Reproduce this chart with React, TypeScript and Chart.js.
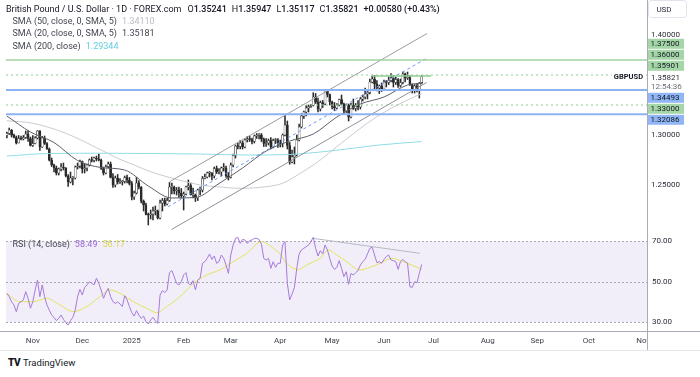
import React, { useEffect, useRef } from 'react';
import { Chart, registerables } from 'chart.js';

Chart.register(...registerables);

// Daily bars: index 0 = 17 Oct 2024 ... index 176 = 24 Jun 2025 (weekdays, 25 Dec and 1 Jan skipped)
const opens = [
  1.2995, 1.3015, 1.3050, 1.2998, 1.2975, 1.2920, 1.2965, 1.2960, 1.2975, 1.3010,
  1.2965, 1.2895, 1.2915, 1.2970, 1.3040, 1.2880, 1.2970, 1.2915, 1.2860, 1.2750,
  1.2700, 1.2670, 1.2620, 1.2660, 1.2680, 1.2670, 1.2590, 1.2530, 1.2570, 1.2570,
  1.2680, 1.2690, 1.2735, 1.2660, 1.2670, 1.2700, 1.2750, 1.2745, 1.2770, 1.2760,
  1.2750, 1.2665, 1.2620, 1.2685, 1.2710, 1.2575, 1.2500, 1.2570, 1.2530, 1.2530,
  1.2535, 1.2575, 1.2550, 1.2515, 1.2380, 1.2420, 1.2520, 1.2480, 1.2340, 1.2300,
  1.2205, 1.2200, 1.2210, 1.2240, 1.2240, 1.2170, 1.2320, 1.2345, 1.2310, 1.2345,
  1.2480, 1.2480, 1.2440, 1.2450, 1.2420, 1.2390, 1.2410, 1.2480, 1.2495, 1.2400,
  1.2400, 1.2370, 1.2450, 1.2450, 1.2565, 1.2580, 1.2620, 1.2620, 1.2590, 1.2665,
  1.2630, 1.2630, 1.2670, 1.2670, 1.2590, 1.2575, 1.2700, 1.2795, 1.2890, 1.2885,
  1.2920, 1.2880, 1.2950, 1.2960, 1.2955, 1.2935, 1.2990, 1.3000, 1.3000, 1.2960,
  1.2915, 1.2920, 1.2945, 1.2880, 1.2945, 1.2945, 1.2920, 1.2915, 1.3000, 1.3100,
  1.2895, 1.2730, 1.2780, 1.2800, 1.2950, 1.3080, 1.3190, 1.3230, 1.3270, 1.3285,
  1.3295, 1.3380, 1.3330, 1.3260, 1.3325, 1.3310, 1.3440, 1.3405, 1.3330, 1.3285,
  1.3270, 1.3300, 1.3355, 1.3310, 1.3240, 1.3300, 1.3180, 1.3300, 1.3265, 1.3300,
  1.3280, 1.3360, 1.3380, 1.3410, 1.3425, 1.3530, 1.3560, 1.3510, 1.3470, 1.3490,
  1.3460, 1.3530, 1.3525, 1.3545, 1.3570, 1.3525, 1.3555, 1.3495, 1.3525, 1.3610,
  1.3570, 1.3575, 1.3500, 1.3445, 1.3490, 1.3455, 1.35241,
];
const highs = [
  1.3030, 1.3070, 1.3055, 1.3010, 1.2990, 1.2995, 1.2990, 1.2995, 1.3040, 1.3045,
  1.2980, 1.2995, 1.2985, 1.3045, 1.3045, 1.2985, 1.2990, 1.2925, 1.2870, 1.2770,
  1.2710, 1.2690, 1.2670, 1.2715, 1.2720, 1.2675, 1.2605, 1.2630, 1.2585, 1.2690,
  1.2720, 1.2750, 1.2740, 1.2710, 1.2710, 1.2760, 1.2780, 1.2780, 1.2790, 1.2810,
  1.2760, 1.2680, 1.2700, 1.2730, 1.2730, 1.2615, 1.2590, 1.2605, 1.2565, 1.2545,
  1.2590, 1.2600, 1.2575, 1.2535, 1.2440, 1.2575, 1.2545, 1.2485, 1.2350, 1.2320,
  1.2220, 1.2250, 1.2280, 1.2290, 1.2250, 1.2350, 1.2365, 1.2370, 1.2370, 1.2525,
  1.2520, 1.2490, 1.2475, 1.2480, 1.2465, 1.2430, 1.2490, 1.2550, 1.2520, 1.2470,
  1.2410, 1.2460, 1.2480, 1.2585, 1.2610, 1.2630, 1.2635, 1.2625, 1.2680, 1.2690,
  1.2665, 1.2680, 1.2715, 1.2690, 1.2625, 1.2720, 1.2810, 1.2900, 1.2920, 1.2945,
  1.2940, 1.2965, 1.2985, 1.2990, 1.2970, 1.3000, 1.3015, 1.3015, 1.3015, 1.2970,
  1.2965, 1.2960, 1.2975, 1.2960, 1.2965, 1.2965, 1.2950, 1.3010, 1.3207, 1.3140,
  1.2925, 1.2850, 1.2880, 1.3000, 1.3110, 1.3215, 1.3240, 1.3295, 1.3300, 1.3305,
  1.3423, 1.3415, 1.3370, 1.3340, 1.3345, 1.3445, 1.3445, 1.3410, 1.3340, 1.3325,
  1.3315, 1.3360, 1.3400, 1.3320, 1.3310, 1.3310, 1.3320, 1.3360, 1.3315, 1.3345,
  1.3375, 1.3400, 1.3470, 1.3445, 1.3560, 1.3590, 1.3595, 1.3545, 1.3500, 1.3520,
  1.3550, 1.3545, 1.3580, 1.3615, 1.3595, 1.3580, 1.3565, 1.3560, 1.3630, 1.3620,
  1.3630, 1.3595, 1.3510, 1.3505, 1.3515, 1.3525, 1.35947,
];
const lows = [
  1.2970, 1.3005, 1.2980, 1.2970, 1.2910, 1.2920, 1.2950, 1.2950, 1.2965, 1.2935,
  1.2890, 1.2885, 1.2910, 1.2960, 1.2845, 1.2875, 1.2905, 1.2855, 1.2740, 1.2685,
  1.2630, 1.2600, 1.2600, 1.2640, 1.2650, 1.2580, 1.2487, 1.2520, 1.2500, 1.2560,
  1.2660, 1.2670, 1.2620, 1.2620, 1.2640, 1.2690, 1.2730, 1.2730, 1.2740, 1.2740,
  1.2655, 1.2600, 1.2610, 1.2670, 1.2570, 1.2475, 1.2480, 1.2510, 1.2515, 1.2500,
  1.2520, 1.2520, 1.2500, 1.2350, 1.2355, 1.2410, 1.2460, 1.2320, 1.2240, 1.2200,
  1.2100, 1.2160, 1.2150, 1.2200, 1.2160, 1.2160, 1.2240, 1.2290, 1.2300, 1.2335,
  1.2410, 1.2410, 1.2400, 1.2375, 1.2370, 1.2250, 1.2400, 1.2450, 1.2400, 1.2370,
  1.2335, 1.2345, 1.2400, 1.2430, 1.2560, 1.2570, 1.2580, 1.2550, 1.2570, 1.2615,
  1.2610, 1.2590, 1.2640, 1.2575, 1.2550, 1.2570, 1.2680, 1.2770, 1.2860, 1.2860,
  1.2860, 1.2870, 1.2930, 1.2935, 1.2910, 1.2920, 1.2965, 1.2960, 1.2935, 1.2885,
  1.2885, 1.2900, 1.2860, 1.2870, 1.2915, 1.2875, 1.2880, 1.2880, 1.2990, 1.2860,
  1.2708, 1.2720, 1.2710, 1.2790, 1.2940, 1.3070, 1.3165, 1.3190, 1.3230, 1.3275,
  1.3290, 1.3315, 1.3230, 1.3240, 1.3275, 1.3300, 1.3380, 1.3300, 1.3260, 1.3245,
  1.3260, 1.3290, 1.3300, 1.3210, 1.3225, 1.3140, 1.3170, 1.3255, 1.3240, 1.3250,
  1.3260, 1.3340, 1.3360, 1.3360, 1.3410, 1.3520, 1.3450, 1.3440, 1.3415, 1.3435,
  1.3445, 1.3480, 1.3505, 1.3530, 1.3480, 1.3505, 1.3475, 1.3480, 1.3510, 1.3530,
  1.3555, 1.3495, 1.3420, 1.3420, 1.3430, 1.3370, 1.35117,
];
const closes = [
  1.3015, 1.3050, 1.2998, 1.2975, 1.2920, 1.2965, 1.2960, 1.2975, 1.3010, 1.2965,
  1.2895, 1.2915, 1.2970, 1.3040, 1.2880, 1.2970, 1.2915, 1.2860, 1.2750, 1.2700,
  1.2670, 1.2620, 1.2660, 1.2680, 1.2670, 1.2590, 1.2530, 1.2570, 1.2570, 1.2680,
  1.2690, 1.2735, 1.2660, 1.2670, 1.2700, 1.2750, 1.2745, 1.2770, 1.2760, 1.2750,
  1.2665, 1.2620, 1.2685, 1.2710, 1.2575, 1.2500, 1.2570, 1.2530, 1.2530, 1.2535,
  1.2575, 1.2550, 1.2515, 1.2380, 1.2420, 1.2520, 1.2480, 1.2340, 1.2300, 1.2205,
  1.2200, 1.2210, 1.2240, 1.2240, 1.2170, 1.2320, 1.2345, 1.2310, 1.2345, 1.2480,
  1.2480, 1.2440, 1.2450, 1.2420, 1.2390, 1.2410, 1.2480, 1.2495, 1.2400, 1.2400,
  1.2370, 1.2450, 1.2450, 1.2565, 1.2580, 1.2620, 1.2620, 1.2590, 1.2665, 1.2630,
  1.2630, 1.2670, 1.2670, 1.2590, 1.2575, 1.2700, 1.2795, 1.2890, 1.2885, 1.2920,
  1.2880, 1.2950, 1.2960, 1.2955, 1.2935, 1.2990, 1.3000, 1.3000, 1.2960, 1.2915,
  1.2920, 1.2945, 1.2880, 1.2945, 1.2945, 1.2920, 1.2915, 1.3000, 1.3100, 1.2895,
  1.2730, 1.2780, 1.2800, 1.2950, 1.3080, 1.3190, 1.3230, 1.3270, 1.3285, 1.3295,
  1.3380, 1.3330, 1.3260, 1.3325, 1.3310, 1.3440, 1.3405, 1.3330, 1.3285, 1.3270,
  1.3300, 1.3355, 1.3310, 1.3240, 1.3300, 1.3180, 1.3300, 1.3265, 1.3300, 1.3280,
  1.3360, 1.3380, 1.3410, 1.3425, 1.3530, 1.3560, 1.3510, 1.3470, 1.3490, 1.3460,
  1.3530, 1.3525, 1.3545, 1.3570, 1.3525, 1.3555, 1.3495, 1.3525, 1.3610, 1.3570,
  1.3575, 1.3500, 1.3445, 1.3490, 1.3455, 1.3520, 1.35821,
];

const rsiValues = [
  44.2, 42.6, 40.1, 38.5, 35.2, 39.3, 40.1, 41.0, 45.1, 41.8,
  36.9, 40.1, 45.9, 50.8, 42.6, 48.4, 42.6, 38.5, 36.0, 33.5,
  32.4, 30.8, 31.9, 33.5, 31.4, 29.8, 28.6, 30.8, 32.4, 36.0,
  42.6, 46.2, 43.4, 47.2, 48.4, 50.0, 49.2, 48.4, 51.7, 49.2,
  45.9, 41.8, 44.6, 46.7, 42.6, 40.1, 39.3, 40.0, 39.0, 37.7,
  43.1, 41.0, 37.7, 34.7, 33.0, 35.7, 33.5, 31.9, 33.0, 30.3,
  29.1, 31.1, 32.4, 30.8, 29.4, 43.4, 45.6, 44.6, 45.9, 54.5,
  55.5, 52.5, 49.2, 48.4, 50.0, 53.3, 54.5, 49.2, 48.4, 50.5,
  45.9, 50.8, 51.7, 59.1, 59.9, 61.5, 63.7, 61.0, 62.7, 59.1,
  59.9, 63.2, 61.5, 58.2, 54.1, 63.2, 68.1, 71.4, 71.9, 68.9,
  70.9, 70.6, 68.9, 70.3, 70.6, 71.4, 71.4, 70.9, 68.6, 61.5,
  60.7, 61.5, 56.6, 59.9, 57.1, 59.1, 59.1, 68.1, 69.8, 49.2,
  41.0, 43.9, 47.2, 56.6, 63.7, 65.7, 66.5, 67.3, 68.1, 69.8,
  71.9, 66.5, 62.7, 65.3, 63.7, 68.1, 65.7, 61.5, 57.7, 56.1,
  57.1, 60.4, 56.6, 52.5, 54.9, 48.7, 54.1, 53.3, 54.5, 55.5,
  58.2, 59.9, 61.0, 63.7, 66.5, 67.0, 63.2, 59.4, 59.9, 59.1,
  61.0, 62.4, 63.2, 60.7, 60.4, 59.9, 56.1, 59.9, 61.0, 59.9,
  59.1, 47.5, 47.2, 50.0, 49.5, 54.1, 58.49,
];

const rsiMaBars = [0, 5.6, 11.2, 16.9, 22.5, 28.2, 33.9, 39.5, 43.8, 48, 53.7, 59.3, 63.6, 67.8, 73.5, 79.1, 84.8, 90.4, 96.1, 101.8, 108.1, 113.1, 115.9, 118.7, 121.6, 123.7, 127.2, 130, 132.9, 136.4, 139.9, 144.2, 149.8, 154.1, 158.3, 163.3, 168.2, 171.8, 176];
const rsiMaValues = [44.2, 40.1, 40.1, 41.8, 38.5, 35.2, 37.7, 42.6, 45.9, 44.3, 40.1, 36.9, 34.7, 37.7, 42.6, 49.2, 53.3, 55.8, 59.9, 64.0, 69.8, 66.5, 63.7, 59.1, 56.6, 56.1, 58.2, 59.9, 61.5, 65.7, 63.2, 59.9, 55.8, 57.1, 59.1, 61.5, 59.9, 58.2, 56.17];

const sma20Bars = [0, 10, 20, 30, 40, 50, 60, 70, 80, 90, 100, 110, 120, 130, 140, 150, 160, 170, 176];
const sma20Values = [1.3190, 1.3030, 1.2925, 1.2745, 1.2675, 1.2650, 1.2490, 1.2370, 1.2375, 1.2515, 1.2670, 1.2840, 1.2940, 1.3010, 1.3180, 1.3310, 1.3380, 1.3500, 1.35181];

const sma50Bars = [0, 11, 25, 40, 47, 54, 61, 73, 82, 89, 99, 107, 117, 121, 133, 140, 157, 173, 176];
const sma50Values = [1.3143, 1.3117, 1.3017, 1.2850, 1.2767, 1.2700, 1.2633, 1.2550, 1.2500, 1.2483, 1.2467, 1.2475, 1.2517, 1.2567, 1.2750, 1.2883, 1.3183, 1.3383, 1.34110];

const sma200Bars = [0, 18, 40, 60, 82, 103, 120, 133, 146, 158, 176];
const sma200Values = [1.2790, 1.2815, 1.2818, 1.2815, 1.2810, 1.2800, 1.2805, 1.2830, 1.2865, 1.2900, 1.29344];

// channel drawings: [barIndex, price]
const channelUpper = [[69.2, 1.2535], [178.25, 1.4015]];
const channelLower = [[69.85, 1.2055], [178.1, 1.3525]];
const channelMedian = [[68.4, 1.2283], [178.7, 1.3775]];
const rsiTrendline = [[130, 71.4], [175.3, 64.0]];

const greenSolidLevels = [1.375];
const greenDottedLevels = [1.36, 1.33];
const blueLevels = [1.34493, 1.32086];
const shortLevel = { fromBar: 155, toBar: 180, price: 1.35901 };

const priceTickValues = [1.25, 1.3, 1.4];
const rsiTickValues = [70, 50, 30];

const monthTickBars = [11, 32, 53, 75, 95, 116, 138, 160, 181, 204, 225, 247, 270];
const monthTickLabels = ['Nov', 'Dec', '2025', 'Feb', 'Mar', 'Apr', 'May', 'Jun', 'Jul', 'Aug', 'Sep', 'Oct', 'Nov'];

const axisLevelLabels = [
  { price: 1.375, text: '1.37500', kind: 'green' },
  { price: 1.36, text: '1.36000', kind: 'green' },
  { price: 1.35901, text: '1.35901', kind: 'green' },
  { price: 1.35821, text: '1.35821', kind: 'last', sub: '12:54:36' },
  { price: 1.34493, text: '1.34493', kind: 'blue' },
  { price: 1.33, text: '1.33000', kind: 'green' },
  { price: 1.32086, text: '1.32086', kind: 'blue' },
];

const X_MIN = -0.37;
const X_MAX = 271.6;
const FONT = 'Roboto, "Liberation Sans", sans-serif';
const INK = '#2a2e39';
const CANDLE = '#2b2b2b';
const GREEN = '#a5d6a7';
const BLUE = '#90b6f5';

const pts = (bars: number[], vals: number[]) => bars.map((b, i) => ({ x: b, y: vals[i] }));
const seg = (s: number[][]) => s.map(([x, y]) => ({ x, y }));
const hline = (p: number) => [{ x: X_MIN, y: p }, { x: X_MAX, y: p }];

const lineDs = (data: any[], color: string, width: number, order: number, extra: any = {}) => ({
  type: 'line',
  data,
  borderColor: color,
  borderWidth: width,
  pointRadius: 0,
  fill: false,
  order,
  ...extra,
});

const pricePanePlugin = {
  id: 'pricePane',
  afterDraw(chart: any) {
    const { ctx, chartArea, scales } = chart;
    const ys = scales.y;
    const right = chartArea.right;
    ctx.save();
    ctx.strokeStyle = '#a9acb6';
    ctx.lineWidth = 1;
    ctx.beginPath();
    ctx.moveTo(right + 0.5, 0);
    ctx.lineTo(right + 0.5, chart.height);
    ctx.stroke();
    ctx.strokeStyle = '#e0e3eb';
    ctx.beginPath();
    (ctx as any).roundRect(right + 1.5, 0.5, 38, 17, 3);
    ctx.stroke();
    ctx.fillStyle = INK;
    ctx.font = `8px ${FONT}`;
    ctx.textBaseline = 'middle';
    ctx.textAlign = 'center';
    ctx.fillText('USD', right + 17, 9.5);
    ctx.textAlign = 'left';
    priceTickValues.forEach((v) => ctx.fillText(v.toFixed(5), right + 4, ys.getPixelForValue(v)));
    const items = axisLevelLabels.map((l) => ({ ...l, h: l.sub ? 21 : 11, yTrue: ys.getPixelForValue(l.price) }));
    const total = items.reduce((a, b) => a + b.h, 0);
    const mean = items.reduce((a, b) => a + b.yTrue, 0) / items.length;
    let top = mean - total / 2 - 3;
    items.forEach((it) => {
      if (it.kind === 'last') {
        ctx.fillStyle = '#ffffff';
        ctx.fillRect(right + 1, top, 52, it.h - 1);
        ctx.fillStyle = INK;
        ctx.fillText(it.text, right + 4, top + 6.5);
        ctx.fillStyle = '#6a6d78';
        ctx.fillText(it.sub as string, right + 4, top + 15);
      } else {
        ctx.fillStyle = it.kind === 'green' ? GREEN : BLUE;
        ctx.fillRect(right + 1, top, 36, 10);
        ctx.fillStyle = '#131722';
        ctx.fillText(it.text, right + 3.5, top + 5.3);
      }
      top += it.h;
    });
    const lastY = ys.getPixelForValue(closes[closes.length - 1]);
    ctx.font = `bold 7.5px ${FONT}`;
    const w = ctx.measureText('GBPUSD').width;
    ctx.fillStyle = '#ffffff';
    ctx.fillRect(right - w - 6, lastY - 5, w + 5, 10);
    ctx.fillStyle = '#131722';
    ctx.textAlign = 'right';
    ctx.fillText('GBPUSD', right - 4, lastY + 0.5);
    ctx.restore();
  },
};

const rsiPanePlugin = {
  id: 'rsiPane',
  beforeDatasetsDraw(chart: any) {
    const { ctx, chartArea, scales } = chart;
    const ys = scales.y;
    const y70 = ys.getPixelForValue(70);
    const y30 = ys.getPixelForValue(30);
    ctx.save();
    ctx.fillStyle = 'rgba(126,87,194,0.1)';
    ctx.fillRect(chartArea.left, y70, chartArea.right - chartArea.left, y30 - y70);
    ctx.strokeStyle = '#a8a8b2';
    ctx.lineWidth = 1;
    ctx.setLineDash([2, 2]);
    rsiTickValues.forEach((v) => {
      const y = Math.round(ys.getPixelForValue(v)) + 0.5;
      ctx.beginPath();
      ctx.moveTo(chartArea.left, y);
      ctx.lineTo(chartArea.right, y);
      ctx.stroke();
    });
    ctx.restore();
  },
  afterDraw(chart: any) {
    const { ctx, chartArea, scales } = chart;
    const ys = scales.y;
    const xs = scales.x;
    const right = chartArea.right;
    ctx.save();
    ctx.strokeStyle = '#a9acb6';
    ctx.lineWidth = 1;
    ctx.beginPath();
    ctx.moveTo(right + 0.5, 0);
    ctx.lineTo(right + 0.5, chart.height);
    ctx.moveTo(0, chartArea.bottom + 0.5);
    ctx.lineTo(chart.width, chartArea.bottom + 0.5);
    ctx.stroke();
    ctx.strokeStyle = '#e6e8ee';
    ctx.beginPath();
    ctx.moveTo(0, chart.height - 0.5);
    ctx.lineTo(chart.width, chart.height - 0.5);
    ctx.stroke();
    ctx.fillStyle = INK;
    ctx.font = `8px ${FONT}`;
    ctx.textBaseline = 'middle';
    ctx.textAlign = 'left';
    rsiTickValues.forEach((v) => ctx.fillText(v.toFixed(2), right + 5, ys.getPixelForValue(v)));
    ctx.beginPath();
    ctx.rect(0, chartArea.bottom + 1, right, chart.height);
    ctx.clip();
    ctx.textAlign = 'center';
    ctx.fillStyle = '#3b3f4a';
    monthTickBars.forEach((b, i) => ctx.fillText(monthTickLabels[i], xs.getPixelForValue(b), chartArea.bottom + 10));
    ctx.restore();
  },
};

export default function App() {
  const priceRef = useRef<HTMLCanvasElement>(null);
  const rsiRef = useRef<HTMLCanvasElement>(null);

  useEffect(() => {
    const bars = closes.map((_, i) => i);
    const wickData = bars.map((i) => ({ x: i, y: [lows[i], highs[i]] }));
    const bodyData = bars.map((i) => ({ x: i, y: [opens[i], closes[i]] }));
    const bodyFill = bars.map((i) => (closes[i] >= opens[i] ? '#ffffff' : CANDLE));

    const priceChart = new Chart(priceRef.current as HTMLCanvasElement, {
      type: 'bar',
      data: {
        datasets: [
          lineDs(hline(greenSolidLevels[0]), '#9fd3a1', 1.6, 1),
          ...greenDottedLevels.map((p) => lineDs(hline(p), '#8fcb92', 1, 1, { borderDash: [2, 3] })),
          ...blueLevels.map((p) => lineDs(hline(p), '#8db3f3', 2, 1)),
          lineDs([{ x: shortLevel.fromBar, y: shortLevel.price }, { x: shortLevel.toBar, y: shortLevel.price }], '#8fcb92', 1.6, 1),
          lineDs(seg(channelUpper), '#9a9da6', 1, 2),
          lineDs(seg(channelLower), '#8e919a', 1, 2),
          lineDs(seg(channelMedian), '#6d95ee', 1, 2, { borderDash: [3, 3] }),
          lineDs(pts(sma20Bars, sma20Values), '#5d606b', 1, 4, { cubicInterpolationMode: 'monotone' }),
          lineDs(pts(sma50Bars, sma50Values), '#c9cbd1', 1, 4, { cubicInterpolationMode: 'monotone' }),
          lineDs(pts(sma200Bars, sma200Values), '#8fdde8', 1, 4, { cubicInterpolationMode: 'monotone' }),
          {
            type: 'bar',
            data: bodyData,
            backgroundColor: bodyFill,
            borderColor: CANDLE,
            borderWidth: 0.55,
            borderSkipped: false,
            barThickness: 2.1,
            minBarLength: 1,
            grouped: false,
            order: 6,
          },
          {
            type: 'bar',
            data: wickData,
            backgroundColor: CANDLE,
            borderWidth: 0,
            barThickness: 0.9,
            grouped: false,
            order: 7,
          },
        ] as any,
      },
      options: {
        responsive: false,
        animation: false,
        devicePixelRatio: 1,
        layout: { padding: { left: 6, right: 0, top: 0, bottom: 0 } },
        plugins: { legend: { display: false }, tooltip: { enabled: false } },
        scales: {
          x: { type: 'linear', min: X_MIN, max: X_MAX, display: false, offset: false },
          y: {
            type: 'linear',
            position: 'right',
            min: 1.202,
            max: 1.435,
            grid: { display: false },
            border: { display: false },
            ticks: { display: false },
            afterFit: (s: any) => { s.width = 53; },
          },
        },
      } as any,
      plugins: [pricePanePlugin],
    });

    const rsiChart = new Chart(rsiRef.current as HTMLCanvasElement, {
      type: 'line',
      data: {
        datasets: [
          lineDs(seg(rsiTrendline), '#b8bac2', 1, 3),
          lineDs(pts(rsiMaBars, rsiMaValues), '#e3e35a', 1, 2, { cubicInterpolationMode: 'monotone' }),
          lineDs(bars.map((i) => ({ x: i, y: rsiValues[i] })), '#a57ad9', 1, 1),
        ] as any,
      },
      options: {
        responsive: false,
        animation: false,
        devicePixelRatio: 1,
        layout: { padding: { left: 6, right: 0, top: 0, bottom: 20 } },
        plugins: { legend: { display: false }, tooltip: { enabled: false } },
        scales: {
          x: { type: 'linear', min: X_MIN, max: X_MAX, display: false },
          y: {
            type: 'linear',
            position: 'right',
            min: 25.65,
            max: 74.05,
            grid: { display: false },
            border: { display: false },
            ticks: { display: false },
            afterFit: (s: any) => { s.width = 53; },
          },
        },
      } as any,
      plugins: [rsiPanePlugin],
    });

    return () => {
      priceChart.destroy();
      rsiChart.destroy();
    };
  }, []);

  const txt: React.CSSProperties = {
    position: 'absolute',
    fontFamily: FONT,
    fontSize: '9px',
    lineHeight: '10px',
    whiteSpace: 'nowrap',
    color: '#131722',
    pointerEvents: 'none',
  };
  const val = (v: string) => <span style={{ fontWeight: 500 }}>{v}</span>;

  return (
    <div style={{ position: 'fixed', left: 0, top: 0, width: 700, height: 377, background: '#ffffff', overflow: 'hidden' }}>
      <canvas ref={priceRef} width={700} height={233} style={{ position: 'absolute', left: 0, top: 0, width: 700, height: 233 }} />
      <canvas ref={rsiRef} width={700} height={118} style={{ position: 'absolute', left: 0, top: 233, width: 700, height: 118 }} />
      <div style={{ ...txt, left: 6, top: 3.5 }}>
        <span>British Pound / U.S. Dollar · 1D · FOREX.com</span>
        <span style={{ marginLeft: 6 }}>O{val('1.35241')}</span>
        <span style={{ marginLeft: 5 }}>H{val('1.35947')}</span>
        <span style={{ marginLeft: 5 }}>L{val('1.35117')}</span>
        <span style={{ marginLeft: 5 }}>C{val('1.35821')}</span>
        <span style={{ marginLeft: 5 }}>{val('+0.00580 (+0.43%)')}</span>
      </div>
      <div style={{ ...txt, left: 12.5, top: 15.7, color: '#434651' }}>
        SMA (50, close, 0, SMA, 5)<span style={{ marginLeft: 5, color: '#b9bbc2' }}>1.34110</span>
      </div>
      <div style={{ ...txt, left: 12.5, top: 28.3, color: '#434651' }}>
        SMA (20, close, 0, SMA, 5)<span style={{ marginLeft: 5, color: '#434651' }}>1.35181</span>
      </div>
      <div style={{ ...txt, left: 12.5, top: 41, color: '#434651' }}>
        SMA (200, close)<span style={{ marginLeft: 5, color: '#5ccfe0' }}>1.29344</span>
      </div>
      <div style={{ ...txt, left: 12.5, top: 239, color: '#434651' }}>
        RSI (14, close)<span style={{ marginLeft: 5, color: '#9c6ad6' }}>58.49</span>
        <span style={{ marginLeft: 5, color: '#d9d94a' }}>56.17</span>
      </div>
      <div style={{ ...txt, left: 8, top: 357, fontSize: '10px', lineHeight: '12px', color: '#131722' }}>
        <span style={{ fontWeight: 900, letterSpacing: '-0.5px' }}>TV</span>
        <span style={{ marginLeft: 3, fontSize: '9.5px' }}>TradingView</span>
      </div>
    </div>
  );
}
